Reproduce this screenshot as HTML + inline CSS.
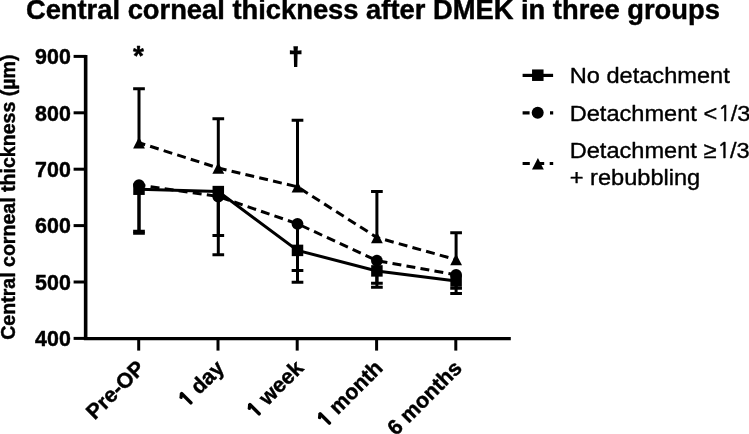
<!DOCTYPE html>
<html lang="en"><head><meta charset="utf-8"><title>Central corneal thickness after DMEK in three groups</title>
<style>
html,body{margin:0;padding:0;background:#fff;}
body{width:749px;height:434px;overflow:hidden;}
svg{display:block;}
text{font-family:"Liberation Sans",Arial,Helvetica,sans-serif;fill:#000;}
.n1{font-family:"NanumGothic","Liberation Sans",sans-serif;font-weight:normal;stroke-linejoin:miter;}
.b{font-weight:bold;stroke:#000;stroke-width:0.45px;stroke-linejoin:round;}
</style></head><body>
<svg width="749" height="434" viewBox="0 0 749 434">
<rect width="749" height="434" fill="#fff"/>

<text class="b" x="372.9" y="18.7" font-size="27.33" text-anchor="middle">Central corneal thickness after DMEK in three groups</text>
<text class="b" font-size="19.57" text-anchor="middle" transform="translate(15.0,197.2) rotate(-90)">Central corneal thickness (µm)</text>
<g stroke="#000" stroke-width="3.2" fill="none" stroke-linecap="butt">
<path d="M85.65 55V340.1" stroke-width="3.6"/>
<path d="M83.85 338.65H510.8"/>
<path d="M73.6 56.40H86" stroke-width="3"/>
<path d="M73.6 112.80H86" stroke-width="3"/>
<path d="M73.6 169.20H86" stroke-width="3"/>
<path d="M73.6 225.60H86" stroke-width="3"/>
<path d="M73.6 282.00H86" stroke-width="3"/>
<path d="M73.6 338.40H86" stroke-width="3"/>
<path d="M138.70 338.5V350.6" stroke-width="3"/>
<path d="M218.00 338.5V350.6" stroke-width="3"/>
<path d="M297.20 338.5V350.6" stroke-width="3"/>
<path d="M376.60 338.5V350.6" stroke-width="3"/>
<path d="M455.80 338.5V350.6" stroke-width="3"/>
</g>
<text class="b" font-size="21.4" text-anchor="end" x="70.8" y="64.10">900</text>
<text class="b" font-size="21.4" text-anchor="end" x="70.8" y="120.50">800</text>
<text class="b" font-size="21.4" text-anchor="end" x="70.8" y="176.90">700</text>
<text class="b" font-size="21.4" text-anchor="end" x="70.8" y="233.30">600</text>
<text class="b" font-size="21.4" text-anchor="end" x="70.8" y="289.70">500</text>
<text class="b" font-size="21.4" text-anchor="end" x="70.8" y="346.10">400</text>
<text class="b" font-size="21.4" text-anchor="end" transform="translate(146.10,369.30) rotate(-45)">Pre-OP</text>
<text class="b" font-size="21.4" text-anchor="end" transform="translate(225.40,369.30) rotate(-45)"><tspan class="n1" font-size="19.2" stroke-width="2.1" dx="0.0">1</tspan><tspan dx="0.1"> day</tspan></text>
<text class="b" font-size="21.4" text-anchor="end" transform="translate(304.60,369.30) rotate(-45)"><tspan class="n1" font-size="19.2" stroke-width="2.1" dx="0.0">1</tspan><tspan dx="0.1"> week</tspan></text>
<text class="b" font-size="21.4" text-anchor="end" transform="translate(384.00,369.30) rotate(-45)"><tspan class="n1" font-size="19.2" stroke-width="2.1" dx="0.0">1</tspan><tspan dx="0.1"> month</tspan></text>
<text class="b" font-size="21.4" text-anchor="end" transform="translate(463.20,369.30) rotate(-45)">6 months</text>
<g stroke="#000" stroke-width="3.0" fill="none">
<path d="M139.0 142.75V88.75M133.15 88.75H144.85"/>
<path d="M139.0 185.1V231.2M133.15 231.2H144.85"/>
<path d="M139.0 189.2V233.3M133.15 233.3H144.85"/>
<path d="M218.3 168.0V118.75M212.45 118.75H224.15"/>
<path d="M218.3 196.5V254.7M212.45 254.7H224.15"/>
<path d="M218.3 191.6V235.6M212.45 235.6H224.15"/>
<path d="M297.5 186.85V120.3M291.65 120.3H303.35"/>
<path d="M297.5 223.8V270.5M291.65 270.5H303.35"/>
<path d="M297.5 250.4V282.2M291.65 282.2H303.35"/>
<path d="M376.9 237.5V191.4M371.05 191.4H382.75"/>
<path d="M376.9 260.7V283.3M371.05 283.3H382.75"/>
<path d="M376.9 270.9V287.3M371.05 287.3H382.75"/>
<path d="M456.1 259.65V232.7M450.25 232.7H461.95"/>
<path d="M456.1 274.9V288.2M450.25 288.2H461.95"/>
<path d="M456.1 281.0V293.4M450.25 293.4H461.95"/>
</g>
<polyline points="139.0,189.2 218.3,191.6 297.5,250.4 376.9,270.9 456.1,281.0" fill="none" stroke="#000" stroke-width="3" stroke-linejoin="miter"/>
<polyline points="139.0,185.1 218.3,196.5 297.5,223.8 376.9,260.7 456.1,274.9" fill="none" stroke="#000" stroke-width="3" stroke-dasharray="8.95 5.25" stroke-dashoffset="2.5"/>
<polyline points="139.0,142.75 218.3,168.0 297.5,186.85 376.9,237.5 456.1,259.65" fill="none" stroke="#000" stroke-width="3" stroke-dasharray="8.95 5.25" stroke-dashoffset="2.5"/>
<g fill="#000">
<rect x="133.25" y="183.45" width="11.5" height="11.5"/>
<circle cx="139.0" cy="185.1" r="5.9"/>
<path d="M139.0 137.05L144.90 148.45H133.10Z"/>
<rect x="212.55" y="185.85" width="11.5" height="11.5"/>
<circle cx="218.3" cy="196.5" r="5.9"/>
<path d="M218.3 162.30L224.20 173.70H212.40Z"/>
<rect x="291.75" y="244.65" width="11.5" height="11.5"/>
<circle cx="297.5" cy="223.8" r="5.9"/>
<path d="M297.5 181.15L303.40 192.55H291.60Z"/>
<rect x="371.15" y="265.15" width="11.5" height="11.5"/>
<circle cx="376.9" cy="260.7" r="5.9"/>
<path d="M376.9 231.80L382.80 243.20H371.00Z"/>
<rect x="450.35" y="275.25" width="11.5" height="11.5"/>
<circle cx="456.1" cy="274.9" r="5.9"/>
<path d="M456.1 253.95L462.00 265.35H450.20Z"/>
</g>
<text class="b" font-size="28" text-anchor="middle" x="138.5" y="65.4">*</text>
<text class="b" font-size="24" text-anchor="middle" x="295.75" y="64.75" style="stroke-width:1.5px;stroke-linejoin:miter">†</text>
<g stroke="#000" stroke-width="3.2" fill="none">
<path d="M522.6 75.4H553.1"/>
<path d="M522.6 112.8H529.6M550 112.8H553.2"/>
<path d="M522.6 163.5H529.8M540 163.5H544.2M549.7 163.5H553.2"/>
</g>
<g fill="#000">
<rect x="532.05" y="69.45" width="11.5" height="11.5"/>
<circle cx="537.7" cy="112.7" r="6.0"/>
<path d="M537.9 158.00L543.80 169.40H532.00Z"/>
</g>
<g font-size="23.6" stroke="#000" stroke-width="0.4" stroke-linejoin="round">
<text transform="translate(569.7,83.1) scale(1,0.965)">No detachment</text>
<text transform="translate(569.7,121.1) scale(1,0.965)">Detachment &lt;<tspan class="n1" font-size="21.6" stroke-width="0.6" dx="0.8">1</tspan><tspan dx="-0.4">/3</tspan></text>
<text transform="translate(569.7,158.1) scale(1,0.965)">Detachment ≥<tspan class="n1" font-size="21.6" stroke-width="0.6" dx="0.8">1</tspan><tspan dx="-0.4">/3</tspan></text>
<text transform="translate(569.7,184.5) scale(1,0.965)">+ rebubbling</text>
</g>
</svg></body></html>
